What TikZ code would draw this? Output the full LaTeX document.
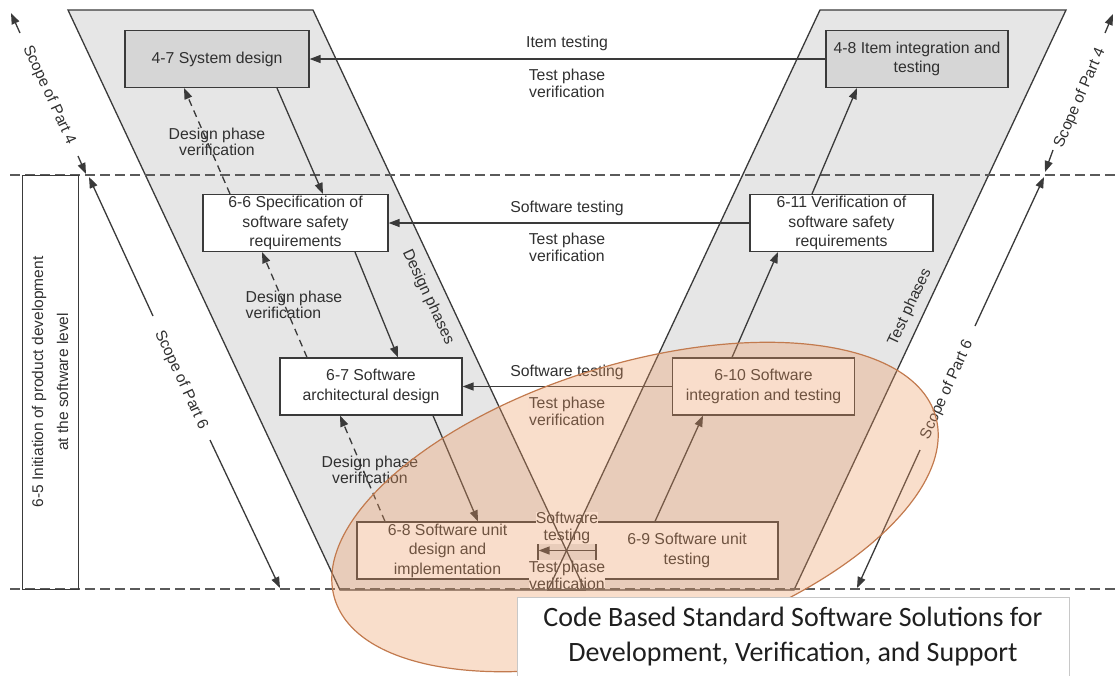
\documentclass[tikz,border=0pt]{standalone}
\usepackage{fontspec}
\setmainfont{Liberation Sans}
\newfontfamily\calibrifont{Carlito}
\usetikzlibrary{arrows.meta,calc}
\definecolor{ink}{HTML}{3A3A3A}
\definecolor{txt}{HTML}{303030}
\definecolor{phasefill}{HTML}{E6E6E6}
\definecolor{topfill}{HTML}{D6D6D6}
\definecolor{dashgray}{HTML}{5A5A5A}
\definecolor{peach}{HTML}{EE9A62}
\definecolor{peachedge}{HTML}{C27A4E}
\definecolor{codeedge}{HTML}{C8C8C8}
\tikzset{
  stagebox/.style={draw=ink, line width=1.2pt, fill=white, align=center,
    minimum height=57pt, inner sep=1pt, text=txt,
    font=\fontsize{15.8}{19.5}\selectfont},
  topbox/.style={stagebox, fill=topfill},
  flow/.style={draw=ink, line width=1.3pt, -{Triangle[length=11pt,width=8pt]}},
  verif/.style={flow, dash pattern=on 7pt off 5pt},
  testlabel/.style={fill=white, inner sep=0.5pt, align=center, text=txt,
    font=\fontsize{15.8}{17}\selectfont},
  designlabel/.style={inner sep=0pt, align=center, text=txt,
    font=\fontsize{15.8}{16.5}\selectfont},
  sidelabel/.style={inner sep=0pt, text=txt, font=\fontsize{15.5}{17}\selectfont},
  phaseedge/.style={draw=ink, line width=1.3pt},
  levelline/.style={draw=dashgray, line width=1.2pt, dash pattern=on 10pt off 5pt},
}
\begin{document}
\begin{tikzpicture}[x=1pt,y=-1pt]
\useasboundingbox (0,0) rectangle (1118,675);

% the two phase bands of the V
\fill[phasefill] (68,10) -- (313,10) -- (585,590) -- (340,590) -- cycle;
\fill[phasefill] (820,10) -- (1066,10) -- (794,590) -- (548,590) -- cycle;

% work products
\node[topbox, minimum width=184pt] (sd) at (217,59) {4-7 System design};
\node[topbox, minimum width=182pt] (ii) at (917,59) {4-8 Item integration and\\testing};
\node[stagebox, minimum width=185pt] (ss) at (295.5,223) {6-6 Specification of\\software safety\\requirements};
\node[stagebox, minimum width=183pt] (vs) at (841.5,223) {6-11 Verification of\\software safety\\requirements};
\node[stagebox, minimum width=182pt] (ar) at (371,386.5) {6-7 Software\\architectural design};
\node[stagebox, minimum width=182pt] (it) at (763.5,386.5) {6-10 Software\\integration and testing};
\node[stagebox, minimum width=181pt] (ud) at (447.5,550.5) {6-8 Software unit\\design and\\implementation};
\node[stagebox, minimum width=182pt] (ut) at (687,550.5) {6-9 Software unit\\testing};

% test-side labels
\node[testlabel] (l1a) at (567,43) {Item testing};
\node[testlabel] (l1b) at (567,83) {Test phase\\verification};
\node[testlabel] (l2a) at (567,208) {Software testing};
\node[testlabel] (l2b) at (567,247) {Test phase\\verification};
\node[testlabel] (l3a) at (567,372) {Software testing};
\node[testlabel] (l3b) at (567,411) {Test phase\\verification};
\node[testlabel, inner xsep=0pt] (l4a) at (567,528) {Software\\testing};
\node[testlabel, inner xsep=0pt] (l4b) at (567,575) {Test phase\\verification};

% outlines of the bands and the level lines
\draw[phaseedge] (68,10) -- (313,10) -- (585,590) -- (340,590) -- cycle;
\draw[phaseedge] (820,10) -- (1066,10) -- (794,590) -- (548,590) -- cycle;
\draw[levelline] (10,175) -- (1118,175);
\draw[levelline] (10,589) -- (1118,589);

% 6-5 initiation column
\node[draw=ink, line width=1pt, rotate=90, minimum width=414pt, minimum height=56pt,
  align=center, inner sep=0pt, text=txt, font=\fontsize{15.5}{25}\selectfont]
  (init) at (50,382) {6-5 Initiation of product development\\at the software level};

% design flow
\draw[flow] ([xshift=60pt]sd.south) -- ([xshift=27.5pt]ss.north);
\draw[flow] ([xshift=59.5pt]ss.south) -- ([xshift=27pt]ar.north);
\draw[flow] ([xshift=62pt]ar.south) -- ([xshift=30.5pt]ud.north);
\draw[verif] ([xshift=-65.5pt]ss.north) -- ([xshift=-33pt]sd.south);
\draw[verif] ([xshift=-64pt]ar.north) -- ([xshift=-33.5pt]ss.south);
\draw[verif] ([xshift=-62.5pt]ud.north) -- ([xshift=-31pt]ar.south);

% test flow
\draw[flow] ([xshift=-32pt]ut.north) -- ([xshift=-60.5pt]it.south);
\draw[flow] ([xshift=-31.5pt]it.north) -- ([xshift=-63.5pt]vs.south);
\draw[flow] ([xshift=-29.5pt]vs.north) -- ([xshift=-60pt]ii.south);

% verification across the V
\draw[flow] (ii.west) -- (sd.east);
\draw[flow] (vs.west) -- (ss.east);
\draw[flow] (it.west) -- (ar.east);
\draw[flow] (ut.west) -- (ud.east);

% design phase verification labels
\node[designlabel] (d1) at (217,142) {Design phase\\verification};
\node[designlabel, align=left] (d2) at (294,305) {Design phase\\verification};
\node[designlabel] (d3) at (370,470) {Design phase\\verification};

% band titles
\node[sidelabel, rotate=-65] (dp) at (428,297) {Design phases};
\node[sidelabel, rotate=65] (tp) at (910,307) {Test phases};

% scope of the parts
\coordinate (l4top) at (11,13);
\coordinate (l4s) at (20,33);
\coordinate (l4e) at (78,156);
\coordinate (l4bot) at (86,174);
\node[sidelabel, rotate=-65.5] (l4txt) at (49,95) {Scope of Part 4};
\draw[flow] (l4s) -- (l4top);
\draw[flow] (l4e) -- (l4bot);

\coordinate (l6top) at (89,177);
\coordinate (l6s) at (153,316);
\coordinate (l6e) at (210,440);
\coordinate (l6bot) at (280,588);
\node[sidelabel, rotate=-65.2] (l6txt) at (181,380) {Scope of Part 6};
\draw[flow] (l6s) -- (l6top);
\draw[flow] (l6e) -- (l6bot);

\coordinate (r4top) at (1113,14);
\coordinate (r4s) at (1105,33);
\coordinate (r4e) at (1053,150);
\coordinate (r4bot) at (1045,172);
\node[sidelabel, rotate=66.5] (r4txt) at (1080,98) {Scope of Part 4};
\draw[flow] (r4s) -- (r4top);
\draw[flow] (r4e) -- (r4bot);

\coordinate (r6top) at (1044,177);
\coordinate (r6s) at (975,326);
\coordinate (r6e) at (920,450);
\coordinate (r6bot) at (857,588);
\node[sidelabel, rotate=65.5] (r6txt) at (947,390) {Scope of Part 6};
\draw[flow] (r6s) -- (r6top);
\draw[flow] (r6e) -- (r6bot);

% highlighted area
\draw[peachedge, line width=1.2pt, fill=peach, fill opacity=0.33]
  [rotate around={17:(635,507)}] (635,507) ellipse [x radius=314, y radius=143];

% caption box
\node[draw=codeedge, line width=0.8pt, fill=white, minimum width=552pt, minimum height=80pt,
  align=center, inner sep=0pt, text=black!88, font=\calibrifont\fontsize{28}{35}\selectfont]
  (cb) at (793,637) {Code Based Standard Software Solutions for\\Development, Verification, and Support};
\end{tikzpicture}
\end{document}
